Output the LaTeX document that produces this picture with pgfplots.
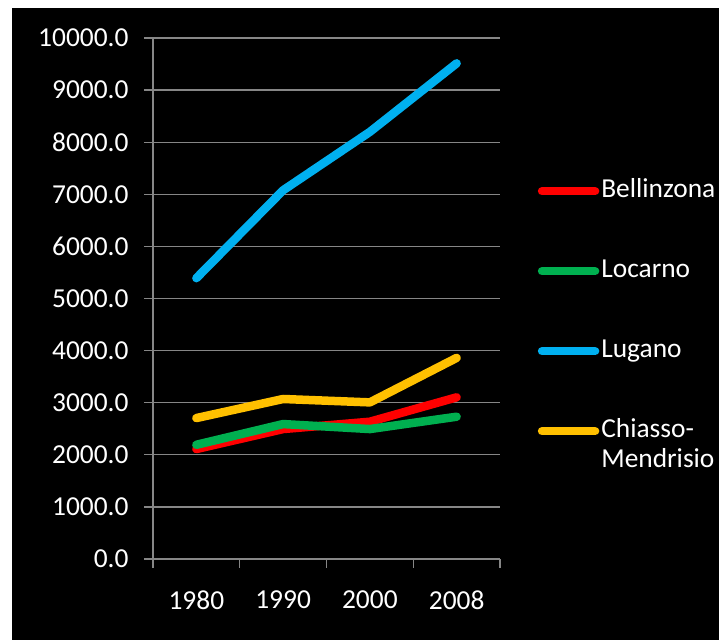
\documentclass[border=0pt]{standalone}
\usepackage{pgfplots}
\pgfplotsset{compat=1.18}
\usepackage{fontspec}
\setmainfont{Carlito}
\definecolor{cred}{HTML}{FF0000}
\definecolor{cgreen}{HTML}{00B050}
\definecolor{cblue}{HTML}{00B0F0}
\definecolor{cyellow}{HTML}{FFC000}
\definecolor{gridgray}{HTML}{868686}
\begin{document}
\begin{tikzpicture}[x=1bp,y=1bp]
\fill[white] (0,0) rectangle (719,640);
\fill[black] (12,0) rectangle (719,632);
\begin{axis}[
  at={(153bp,81bp)}, anchor=south west,
  scale only axis, width=347bp, height=521bp,
  xmin=-0.5, xmax=3.5, ymin=0, ymax=10000,
  axis x line*=bottom, axis y line*=left,
  axis line style={draw=gridgray, line width=1.3bp, -},
  xtick={0,1,2,3}, xticklabels={1980,1990,2000,2008},
  minor xtick={-0.5,0.5,1.5,2.5,3.5},
  ytick={0,1000,...,10000},
  scaled y ticks=false,
  ymajorgrids, grid style={gridgray, line width=1.3bp},
  tick align=outside,
  major tick length=9bp, minor tick length=9bp,
  tick style={gridgray, line width=1.3bp},
  major x tick style={draw=none},
  ticklabel style={font=\fontsize{27.5}{33}\selectfont, text=white},
  yticklabel style={xshift=-12bp},
  xticklabel style={yshift=-19bp},
  /pgf/number format/fixed,
  /pgf/number format/fixed zerofill,
  /pgf/number format/precision=1,
  /pgf/number format/1000 sep={},
  /pgf/number format/assume math mode=true,
  legend style={at={(1.109,0.729)}, anchor=north west, draw=none, fill=none,
    text=white, font=\fontsize{27.5}{33}\selectfont, inner sep=0pt, outer sep=0pt,
    row sep=56bp, column sep=2bp,
    nodes={inner sep=0pt, text height=18bp, text depth=6bp}},
  legend cell align=left,
  legend image code/.code={\draw[#1, line cap=round] (0bp,0bp) -- (53bp,0bp);},
  every axis plot/.append style={line width=8.5bp, line cap=round, line join=round},
]
\addplot[cred] coordinates {(0,2110) (1,2494) (2,2635) (3,3103)};
\addlegendentry{Bellinzona}
\addplot[cgreen] coordinates {(0,2192) (1,2590) (2,2494) (3,2731)};
\addlegendentry{Locarno}
\addplot[cblue] coordinates {(0,5390) (1,7077) (2,8198) (3,9513)};
\addlegendentry{Lugano}
\addplot[cyellow] coordinates {(0,2705) (1,3071) (2,3006) (3,3860)};
\addlegendentry{\begin{tabular}[t]{@{}l@{}}Chiasso-\\[-3bp]Mendrisio\end{tabular}}
\end{axis}
\end{tikzpicture}
\end{document}
